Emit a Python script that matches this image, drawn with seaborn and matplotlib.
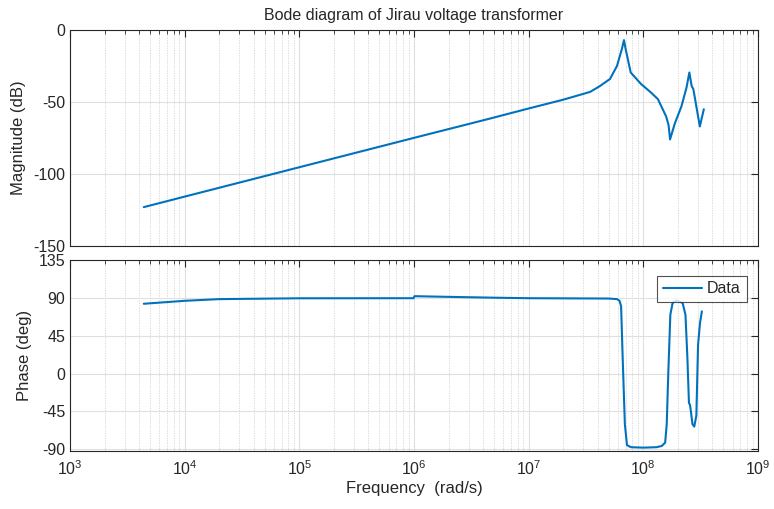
import numpy as np
import pandas as pd
import matplotlib
matplotlib.use("Agg")
import matplotlib.pyplot as plt
import seaborn as sns
from matplotlib.ticker import LogLocator, FixedLocator, NullFormatter, LogFormatterSciNotation

# ---- data ----
mag_freq = [4.4e3, 1e4, 1e5, 1e6, 4.5e6, 1e7, 2e7, 3.43e7, 4.17e7, 5.12e7, 5.89e7, 6.51e7,
            6.78e7, 7.0e7, 7.76e7, 9.55e7, 1.15e8, 1.34e8, 1.58e8, 1.66e8, 1.71e8,
            1.88e8, 2.15e8, 2.38e8, 2.52e8, 2.64e8, 2.73e8, 3.11e8, 3.37e8]
mag_db = [-123, -115.7, -95.3, -74.9, -61.7, -54.5, -48.4, -43.0, -39.0, -34.0, -25.0, -13.0,
          -7.0, -13.0, -29.5, -37.5, -43.0, -48.0, -60.0, -66.0, -76.0,
          -65.0, -53.0, -40.0, -29.5, -39.0, -41.0, -67.0, -55.0]

ph_freq = [4.4e3, 1e4, 2e4, 1e5, 9.9e5, 1.01e6, 2e6, 5e6, 1e7, 5e7, 5.9e7, 6.2e7,
           6.4e7, 6.6e7, 6.9e7, 7.2e7, 7.8e7, 1.0e8, 1.3e8, 1.45e8, 1.55e8, 1.6e8,
           1.65e8, 1.72e8, 1.8e8, 1.95e8, 2.2e8, 2.33e8, 2.42e8, 2.5e8, 2.55e8, 2.6e8,
           2.68e8, 2.78e8, 2.9e8, 3.0e8, 3.12e8, 3.24e8]
ph_deg = [83, 86.5, 88.5, 89.5, 89.6, 92, 91.2, 90.2, 89.6, 89.2, 88.5, 86.5,
          80, 20, -60, -85, -87.5, -88, -87.5, -86, -82, -60,
          0, 70, 84, 87, 84, 70, 20, -35, -37, -45,
          -60, -63, -50, 34, 60, 74]

x_ticks = [1e3, 1e4, 1e5, 1e6, 1e7, 1e8, 1e9]
mag_ticks = [-150, -100, -50, 0]
ph_ticks = [-90, -45, 0, 45, 90, 135]

mag_df = pd.DataFrame({"Frequency": mag_freq, "Magnitude": mag_db})
ph_df = pd.DataFrame({"Frequency": ph_freq, "Phase": ph_deg})

sns.set_style("white")
plt.rcParams["font.family"] = ["Liberation Sans", "DejaVu Sans"]
plt.rcParams["mathtext.fontset"] = "custom"
plt.rcParams["mathtext.rm"] = "Liberation Sans"
plt.rcParams["mathtext.it"] = "Liberation Sans"
plt.rcParams["axes.unicode_minus"] = False

line_color = "#0072BD"
axis_color = "#262626"

fig = plt.figure(figsize=(7.74, 5.09), dpi=100)
ax1 = fig.add_axes([70 / 774, 1 - 246 / 509, (758 - 70) / 774, (246 - 30) / 509])
ax2 = fig.add_axes([70 / 774, 1 - 451 / 509, (758 - 70) / 774, (451 - 260) / 509])

sns.lineplot(data=mag_df, x="Frequency", y="Magnitude", ax=ax1, color=line_color,
             linewidth=1.5, sort=False, estimator=None)
sns.lineplot(data=ph_df, x="Frequency", y="Phase", ax=ax2, color=line_color,
             linewidth=1.5, sort=False, estimator=None, label="Data")

for ax in (ax1, ax2):
    ax.set_xscale("log")
    ax.set_xlim(1e3, 1e9)
    ax.xaxis.set_major_locator(FixedLocator(x_ticks))
    ax.xaxis.set_major_formatter(LogFormatterSciNotation(base=10))
    ax.xaxis.set_minor_locator(LogLocator(base=10, subs=np.arange(2, 10), numticks=100))
    ax.xaxis.set_minor_formatter(NullFormatter())
    ax.grid(True, which="major", color="#e0e0e0", linewidth=0.8, linestyle="-")
    ax.grid(True, which="minor", axis="x", color="#d4d4d4", linewidth=0.6, linestyle=(0, (1.5, 1.5)))
    ax.set_axisbelow(True)
    for sp in ax.spines.values():
        sp.set_visible(True)
        sp.set_color(axis_color)
        sp.set_linewidth(0.8)
    ax.tick_params(which="both", direction="in", top=True, right=True,
                   color=axis_color, labelcolor=axis_color, labelsize=11.5)
    ax.tick_params(which="major", length=5)
    ax.tick_params(which="minor", length=3)

ax1.set_ylim(-150, 0)
ax1.yaxis.set_major_locator(FixedLocator(mag_ticks))
ax1.tick_params(axis="x", which="both", labelbottom=False)
ax1.set_xlabel("")
ax1.set_ylabel("Magnitude (dB)", fontsize=12, color=axis_color, labelpad=5)
ax1.set_title("Bode diagram of Jirau voltage transformer", fontsize=11.5, color=axis_color, pad=7)

ax2.set_ylim(-92, 135)
ax2.yaxis.set_major_locator(FixedLocator(ph_ticks))
ax2.set_ylabel("Phase (deg)", fontsize=12, color=axis_color, labelpad=5)
ax2.set_xlabel("Frequency  (rad/s)", fontsize=12, color=axis_color, labelpad=2)
ax2.tick_params(axis="x", which="major", pad=6)

leg = ax2.legend(loc="upper right", fontsize=11.5, frameon=True, fancybox=False,
                 handlelength=2.5, handletextpad=0.3, borderpad=0.35,
                 bbox_to_anchor=(0.995, 0.96))
leg.get_frame().set_edgecolor(axis_color)
leg.get_frame().set_linewidth(0.8)

fig.savefig("out.png", dpi=100, facecolor="white")
